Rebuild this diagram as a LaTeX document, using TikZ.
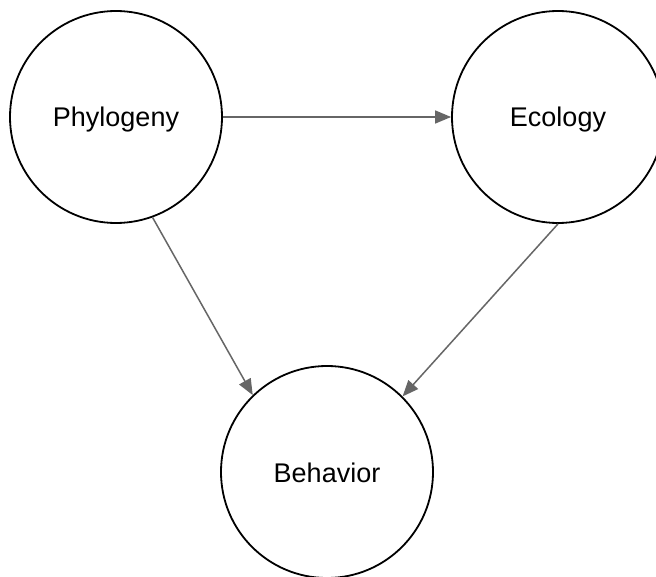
\documentclass[tikz,border=0pt]{standalone}
\usepackage{fontspec}
\setmainfont{Liberation Sans}
\usetikzlibrary{arrows.meta}
\begin{document}
\begin{tikzpicture}[x=1pt,y=-1pt,
  circ/.style={circle,draw=black,line width=1.8pt,minimum size=212pt,inner sep=0pt,
    text height=20pt,text depth=0pt,font=\fontsize{27}{32}\selectfont},
  conn/.style={draw=black!60,line width=1.5pt,-{Triangle[length=16pt,width=13pt]}}]
\useasboundingbox (0,0) rectangle (656,577);
\fill[white] (0,0) rectangle (656,577);
\node[circ] (phy) at (116,117) {Phylogeny};
\node[circ] (eco) at (558,117) {Ecology};
\node[circ] (beh) at (327,472) {Behavior};
\draw[conn] (phy.0) -- (eco.180);
\draw[conn] (phy.290) -- (beh.134);
\draw[conn] (eco.270) -- (beh.45);
\end{tikzpicture}
\end{document}
